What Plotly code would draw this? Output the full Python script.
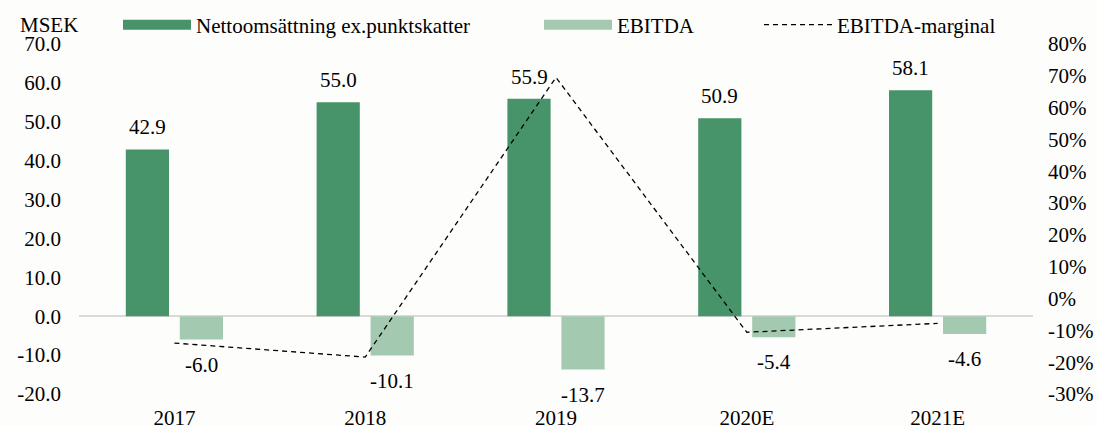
import plotly.graph_objects as go

categories = ["2017", "2018", "2019", "2020E", "2021E"]
net_sales = [42.9, 55.0, 55.9, 50.9, 58.1]
ebitda = [-6.0, -10.1, -13.7, -5.4, -4.6]
ebitda_margin = [-14.0, -18.4, 69.5, -10.6, -7.8]
left_ticks = [-20, -10, 0, 10, 20, 30, 40, 50, 60, 70]
right_ticks = [-30, -20, -10, 0, 10, 20, 30, 40, 50, 60, 70, 80]
names = ["Nettoomsättning ex.punktskatter", "EBITDA", "EBITDA-marginal"]

FONT = "Liberation Serif, Times New Roman, serif"
FS = 21
C_NET = "#47936A"
C_EB = "#A3C9B0"
BG = "#FDFDFB"

W, H = 1097, 426
ML, MR, MT, MB = 79, 64, 44, 32
PW = W - ML - MR
PH = H - MT - MB

xpos = list(range(len(categories)))

fig = go.Figure()
fig.add_trace(go.Bar(x=xpos, y=net_sales, name=names[0], showlegend=False,
                     marker=dict(color=C_NET, line=dict(width=0)), yaxis="y"))
fig.add_trace(go.Bar(x=xpos, y=ebitda, name=names[1], showlegend=False,
                     marker=dict(color=C_EB, line=dict(width=0)), yaxis="y"))
fig.add_trace(go.Scatter(x=xpos, y=ebitda_margin, name=names[2], mode="lines",
                         line=dict(color="black", width=1.3, dash="5px,4px"), yaxis="y2",
                         legend="legend3"))
# legend entries with wide rectangular swatches for the bar series
fig.add_trace(go.Scatter(x=[None], y=[None], name=names[0], mode="lines",
                         line=dict(color=C_NET, width=11), legend="legend"))
fig.add_trace(go.Scatter(x=[None], y=[None], name=names[1], mode="lines",
                         line=dict(color=C_EB, width=11), legend="legend2"))

ann = []
for xp, v in zip(xpos, net_sales):
    ann.append(dict(x=xp, y=v, xref="x", yref="y", text=f"{v:.1f}", showarrow=False,
                    xshift=-27, yshift=22, yanchor="middle",
                    font=dict(family=FONT, size=FS, color="black")))
for xp, v in zip(xpos, ebitda):
    ann.append(dict(x=xp, y=v, xref="x", yref="y", text=f"{v:.1f}", showarrow=False,
                    xshift=27, yshift=-25, yanchor="middle",
                    font=dict(family=FONT, size=FS, color="black")))
ann.append(dict(x=(18 - ML) / PW, y=(H - MB - 25) / PH, xref="paper", yref="paper",
                text="MSEK", showarrow=False, xanchor="left", yanchor="middle",
                font=dict(family=FONT, size=FS, color="black")))

def leg(xpix):
    return dict(orientation="h", xref="container", yref="container",
                x=xpix / W, y=1 - 25 / H, xanchor="left", yanchor="middle",
                bgcolor="rgba(0,0,0,0)", borderwidth=0,
                font=dict(family=FONT, size=FS, color="black"), itemwidth=68)

fig.update_layout(
    width=W, height=H,
    paper_bgcolor=BG, plot_bgcolor=BG,
    margin=dict(l=ML, r=MR, t=MT, b=MB, autoexpand=False),
    barmode="group", bargap=0.434, bargroupgap=0.2,
    font=dict(family=FONT, size=FS, color="black"),
    showlegend=True,
    legend=leg(118), legend2=leg(539), legend3=leg(759),
    xaxis=dict(range=[-0.5, len(categories) - 0.5], tickvals=xpos, ticktext=categories,
               showgrid=False, showline=False, zeroline=False, ticks="",
               tickfont=dict(family=FONT, size=FS), ticklabelstandoff=9),
    yaxis=dict(range=[-20, 70], tickvals=left_ticks, ticktext=[f"{t:.1f}" for t in left_ticks],
               showgrid=False, zeroline=True, zerolinecolor="#D9D9D9", zerolinewidth=2,
               showline=False, ticks="", tickfont=dict(family=FONT, size=FS),
               ticklabelstandoff=17),
    yaxis2=dict(range=[-30, 80], tickvals=right_ticks, ticktext=[f"{t}%" for t in right_ticks],
                overlaying="y", side="right", showgrid=False, zeroline=False, showline=False,
                ticks="", tickfont=dict(family=FONT, size=FS), ticklabelstandoff=14),
    annotations=ann,
)
fig.write_html("out.html", config={"displayModeBar": False},
               post_script="document.body.style.margin='0px';document.body.style.background='%s';" % BG)
